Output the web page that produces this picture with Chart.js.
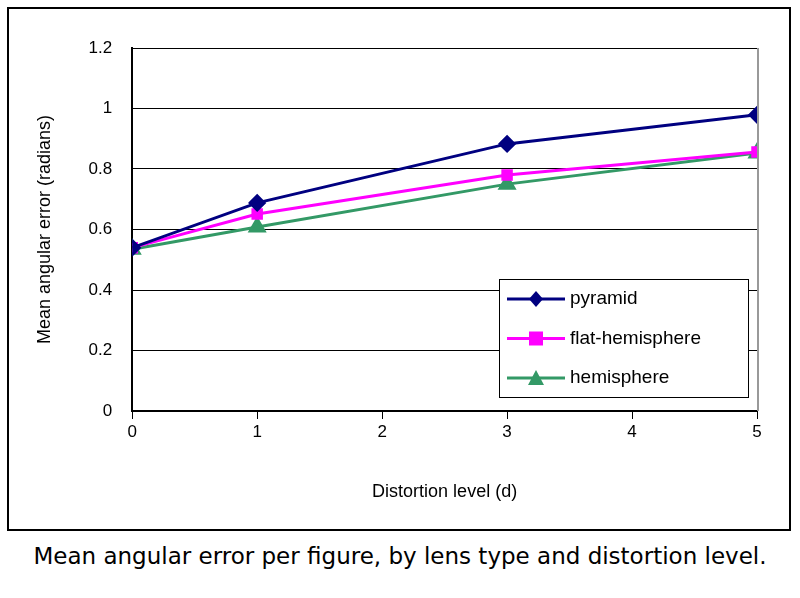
<!DOCTYPE html>
<html><head><meta charset="utf-8">
<script src="https://cdn.jsdelivr.net/npm/chart.js@4/dist/chart.umd.min.js"></script>
<style>
body{margin:0;background:#fff;width:800px;height:598px;position:relative;overflow:hidden}
#box{position:absolute;left:7px;top:7px;width:780px;height:520px;border:2px solid #000}
#cap{position:absolute;left:0;width:800px;top:543px;text-align:center;font:23px "DejaVu Sans";color:#000;white-space:nowrap}
</style></head><body>
<div id="box"><canvas id="c" width="780" height="520"></canvas></div>
<div id="cap">Mean angular error per figure, by lens type and distortion level.</div>
<script>
const distortion=[0,1,3,5];
const pyramid=[0.54,0.688,0.883,0.979];
const flatHemisphere=[0.54,0.651,0.78,0.856];
const hemisphere=[0.535,0.608,0.75,0.853];
const yTicks=[0,0.2,0.4,0.6,0.8,1,1.2];
const pts=a=>distortion.map((x,i)=>({x,y:a[i]}));
const legendPlugin={id:'lg',afterDraw(ch){
  const c=ch.ctx;c.save();
  const x0=490,y0=270,w=249,h=118;
  c.fillStyle='#fff';c.fillRect(x0,y0,w,h);c.strokeStyle='#000';c.lineWidth=1;c.strokeRect(x0+.5,y0+.5,w,h);
  c.font='19px "Liberation Sans", Arial';c.textBaseline='middle';
  ch.data.datasets.forEach((d,i)=>{
    const y=y0+20+i*39.5;
    c.strokeStyle=d.borderColor;c.lineWidth=3;c.beginPath();c.moveTo(x0+8,y);c.lineTo(x0+66,y);c.stroke();
    c.fillStyle=d.backgroundColor;c.beginPath();
    const m=x0+37;
    if(i==0){c.moveTo(m,y-8);c.lineTo(m+7,y);c.lineTo(m,y+8);c.lineTo(m-7,y);}
    else if(i==1){c.rect(m-7,y-7,14,14);}
    else{c.moveTo(m,y-8);c.lineTo(m+8,y+7);c.lineTo(m-8,y+7);}
    c.closePath();c.fill();
    c.fillStyle='#000';c.fillText(d.label,x0+71,y);
  });
  const a=ch.chartArea;c.strokeStyle='#999';c.lineWidth=2;c.beginPath();c.moveTo(a.right+1,a.top);c.lineTo(a.right+1,a.bottom);c.stroke();
  c.restore();}};
new Chart(document.getElementById('c'),{type:'scatter',
 data:{datasets:[
  {label:'pyramid',data:pts(pyramid),borderColor:'#000080',backgroundColor:'#000080',pointStyle:'rectRot',pointRadius:7,showLine:true,borderWidth:3},
  {label:'flat-hemisphere',data:pts(flatHemisphere),borderColor:'#FF00FF',backgroundColor:'#FF00FF',pointStyle:'rect',pointRadius:6,showLine:true,borderWidth:3},
  {label:'hemisphere',data:pts(hemisphere),borderColor:'#339966',backgroundColor:'#339966',pointStyle:'triangle',pointRadius:8,showLine:true,borderWidth:3}]},
 options:{responsive:false,animation:false,
  layout:{padding:{left:21,right:32,top:39,bottom:22}},
  plugins:{legend:{display:false},tooltip:{enabled:false}},
  scales:{
   x:{type:'linear',min:0,max:5,ticks:{stepSize:1,color:'#000',font:{size:17,family:'"Liberation Sans", Arial'}},
      grid:{display:true,drawOnChartArea:false,color:'#000',tickLength:8},border:{color:'#000',width:2},
      title:{display:true,text:'Distortion level (d)',color:'#000',font:{size:18,family:'"Liberation Sans", Arial'},padding:{top:36}}},
   y:{min:0,max:1.2,afterBuildTicks:s=>{s.ticks=yTicks.map(v=>({value:v}))},
      ticks:{color:'#000',padding:20,font:{size:17,family:'"Liberation Sans", Arial'},callback:v=>String(Math.round(v*10)/10)},
      grid:{color:'#000',drawTicks:false,lineWidth:1},border:{color:'#000',width:2},
      title:{display:true,text:'Mean angular error (radians)',color:'#000',font:{size:18,family:'"Liberation Sans", Arial'},padding:{bottom:13}}}}},
 plugins:[legendPlugin]});
</script></body></html>
